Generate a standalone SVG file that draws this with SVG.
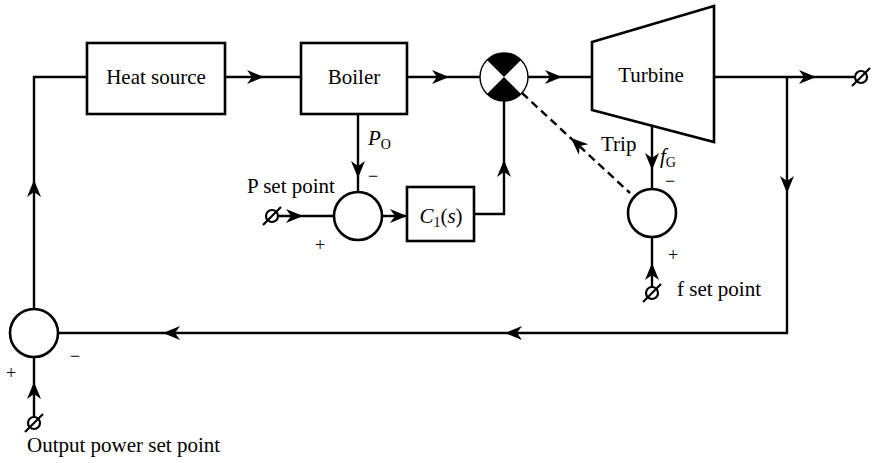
<svg xmlns="http://www.w3.org/2000/svg" xmlns:xlink="http://www.w3.org/1999/xlink" width="875" height="463" viewBox="0 0 875 463">
<style>
.ln{stroke:#000;stroke-width:2.4;fill:none}
.bx{stroke:#000;stroke-width:2.6;fill:#fff}
.dash{stroke:#000;stroke-width:2.4;fill:none;stroke-dasharray:8,5}
.t{font-family:"Liberation Serif","Times New Roman",serif;font-size:21px;fill:#000}
.s{font-family:"Liberation Serif","Times New Roman",serif;font-size:18px;fill:#000}
.sub{font-size:14px}
.i{font-style:italic}
</style>
<defs>
<path id="ah" d="M0,0 L-17,-7 L-12,0 L-17,7 Z" fill="#000"/>
<g id="term"><circle r="6" fill="#fff" stroke="#000" stroke-width="2.2"/><line x1="-9" y1="9" x2="9" y2="-9" stroke="#000" stroke-width="2.2"/></g>
</defs>

<g id="connectors">
<polyline class="ln" points="34,309 34,77 87,77"/>
<line class="ln" x1="225" y1="77" x2="301" y2="77"/>
<line class="ln" x1="407" y1="77" x2="480" y2="77"/>
<line class="ln" x1="528" y1="77" x2="592" y2="77"/>
<line class="ln" x1="714" y1="77" x2="855" y2="77"/>
<polyline class="ln" points="787,77 787,333 58,333"/>
<line class="ln" x1="34" y1="357" x2="34" y2="417"/>
<line class="ln" x1="358" y1="114" x2="358" y2="192"/>
<line class="ln" x1="278" y1="216" x2="334" y2="216"/>
<line class="ln" x1="382" y1="216" x2="407" y2="216"/>
<polyline class="ln" points="474,214 504,214 504,101"/>
<line class="ln" x1="652" y1="126" x2="652" y2="189"/>
<line class="ln" x1="652" y1="237" x2="652" y2="287"/>
<line class="dash" x1="522" y1="93" x2="630" y2="193"/>
<use xlink:href="#ah" transform="translate(264,77)"/>
<use xlink:href="#ah" transform="translate(449,77)"/>
<use xlink:href="#ah" transform="translate(562,77)"/>
<use xlink:href="#ah" transform="translate(816,77)"/>
<use xlink:href="#ah" transform="translate(787,193) rotate(90)"/>
<use xlink:href="#ah" transform="translate(505,333) rotate(180)"/>
<use xlink:href="#ah" transform="translate(163,333) rotate(180)"/>
<use xlink:href="#ah" transform="translate(34,180) rotate(-90)"/>
<use xlink:href="#ah" transform="translate(34,382) rotate(-90)"/>
<use xlink:href="#ah" transform="translate(358,178) rotate(90)"/>
<use xlink:href="#ah" transform="translate(303,216)"/>
<use xlink:href="#ah" transform="translate(407,216)"/>
<use xlink:href="#ah" transform="translate(504,160) rotate(-90)"/>
<use xlink:href="#ah" transform="translate(652,170) rotate(90)"/>
<use xlink:href="#ah" transform="translate(652,263) rotate(-90)"/>
<use xlink:href="#ah" transform="translate(571,138) rotate(-137.4)"/>
</g>

<g id="heat-source">
<rect class="bx" x="87" y="43" width="138" height="71"/>
<text class="t" x="156" y="84" text-anchor="middle">Heat source</text>
</g>
<g id="boiler">
<rect class="bx" x="301" y="43" width="106" height="71"/>
<text class="t" x="354" y="84" text-anchor="middle">Boiler</text>
</g>
<g id="valve">
<circle cx="504" cy="77" r="24" fill="#fff" stroke="#000" stroke-width="1.4"/>
<path d="M504,77 L487.03,60.03 A24,24 0 0 1 520.97,60.03 Z" fill="#000"/>
<path d="M504,77 L520.97,93.97 A24,24 0 0 1 487.03,93.97 Z" fill="#000"/>
</g>
<g id="turbine">
<polygon class="bx" points="592,42 714,6 714,142 592,110"/>
<text class="t" x="651" y="82" text-anchor="middle">Turbine</text>
</g>
<g id="sum-p">
<circle class="bx" cx="358" cy="216" r="24"/>
</g>
<g id="c1">
<rect class="bx" x="407" y="187" width="67" height="54"/>
<text class="t" x="441" y="223" text-anchor="middle"><tspan class="i">C</tspan><tspan class="sub" dy="4">1</tspan><tspan dy="-4">(</tspan><tspan class="i">s</tspan>)</text>
</g>
<g id="sum-f">
<circle class="bx" cx="652" cy="213" r="24"/>
</g>
<g id="sum-out">
<circle class="bx" cx="34" cy="333" r="24"/>
</g>
<g id="terminals">
<use xlink:href="#term" transform="translate(861,77)"/>
<use xlink:href="#term" transform="translate(272,216)"/>
<use xlink:href="#term" transform="translate(652,293)"/>
<use xlink:href="#term" transform="translate(34,423)"/>
</g>
<g id="labels">
<text class="t" x="368" y="145"><tspan class="i">P</tspan><tspan class="sub" dy="4">O</tspan></text>
<text class="s" x="373" y="182" text-anchor="middle">−</text>
<text class="s" x="320" y="251" text-anchor="middle">+</text>
<text class="t" x="247" y="193">P set point</text>
<text class="t" x="601" y="151">Trip</text>
<text class="t" x="660" y="163"><tspan class="i">f</tspan><tspan class="sub" dy="4">G</tspan></text>
<text class="s" x="670" y="187" text-anchor="middle">−</text>
<text class="s" x="673" y="261" text-anchor="middle">+</text>
<text class="t" x="677" y="296">f set point</text>
<text class="s" x="75" y="362" text-anchor="middle">−</text>
<text class="s" x="11" y="379" text-anchor="middle">+</text>
<text class="t" x="27" y="452">Output power set point</text>
</g>
</svg>
